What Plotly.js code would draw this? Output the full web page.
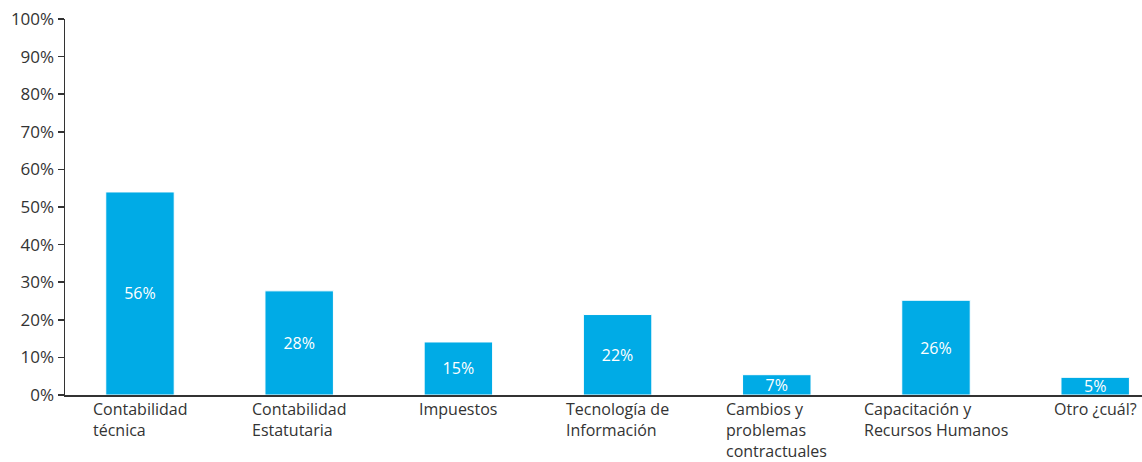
<!DOCTYPE html>
<html>
<head>
<meta charset="utf-8">
<script src="https://cdn.plot.ly/plotly-3.0.1.min.js"></script>
<style>html,body{margin:0;padding:0;background:#fff;}#chart{width:1142px;height:462px;}</style>
</head>
<body>
<div id="chart"></div>
<script>
var categories = ["Contabilidad<br>técnica", "Contabilidad<br>Estatutaria", "Impuestos", "Tecnología de<br>Información", "Cambios y<br>problemas<br>contractuales", "Capacitación y<br>Recursos Humanos", "Otro ¿cuál?"];
var barValues = [0.54, 0.277, 0.141, 0.214, 0.054, 0.252, 0.047];
var valueLabels = ["56%", "28%", "15%", "22%", "7%", "26%", "5%"];
var yTickVals = [0, 0.1, 0.2, 0.3, 0.4, 0.5, 0.6, 0.7, 0.8, 0.9, 1.0];
var yTickText = ["0%", "10%", "20%", "30%", "40%", "50%", "60%", "70%", "80%", "90%", "100%"];

var xIdx = categories.map(function(c, i){ return i; });

var trace = {
  type: "bar",
  x: xIdx,
  y: barValues,
  width: 0.43,
  text: valueLabels,
  textposition: "inside",
  insidetextanchor: "middle",
  textangle: 0,
  textfont: {family: "Open Sans, sans-serif", size: 16, color: "#ffffff"},
  marker: {color: "#00ABE6", line: {color: "#ffffff", width: 1}},
  hoverinfo: "none"
};

var annotations = categories.map(function(c, i){
  return {
    x: i, xref: "x", y: 0, yref: "paper",
    yshift: -2,
    borderpad: 0,
    xanchor: "center", yanchor: "top",
    align: "left",
    text: c,
    showarrow: false,
    font: {family: "Open Sans, sans-serif", size: 16, color: "#333333"}
  };
});

var layout = {
  width: 1142, height: 462,
  margin: {l: 65, r: 0, t: 19, b: 67},
  paper_bgcolor: "#ffffff", plot_bgcolor: "#ffffff",
  showlegend: false,
  uniformtext: {minsize: 16, mode: "show"},
  xaxis: {
    range: [-0.471, 6.294],
    showticklabels: false,
    ticks: "",
    showgrid: false,
    zeroline: false,
    showline: true, linecolor: "#333333", linewidth: 1.5,
    fixedrange: true
  },
  yaxis: {
    range: [0, 1],
    tickvals: yTickVals, ticktext: yTickText,
    ticks: "outside", ticklen: 6, tickwidth: 1.5, tickcolor: "#333333",
    showgrid: false, zeroline: false,
    showline: true, linecolor: "#333333", linewidth: 1.5,
    tickfont: {family: "Open Sans, sans-serif", size: 17, color: "#333333"},
    fixedrange: true
  },
  annotations: annotations
};

Plotly.newPlot("chart", [trace], layout, {displayModeBar: false, staticPlot: true});
</script>
</body>
</html>
